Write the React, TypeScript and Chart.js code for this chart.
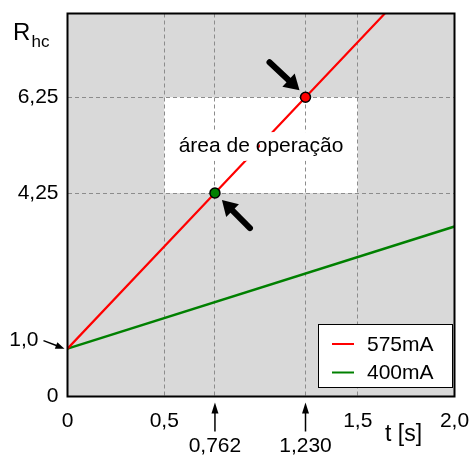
import React, { useEffect, useRef } from 'react';
import { Chart, registerables } from 'chart.js';

Chart.register(...registerables);

const FONT = "'Liberation Sans', Arial, Helvetica, sans-serif";

// Series data
const RED_LABEL = '575mA';
const RED_T = [0, 0.762, 1.23, 1.64];
const RED_R = [1.0, 4.25, 6.25, 8.0];
const GREEN_LABEL = '400mA';
const GREEN_T = [0, 2.0];
const GREEN_R = [1.0, 3.55];
// Marked operating points
const MARK_T = [0.762, 1.23];
const MARK_R = [4.25, 6.25];
const MARK_COLORS = ['#008000', '#ff0000'];
// Ticks
const X_TICKS = [0, 0.5, 0.762, 1.23, 1.5, 2.0];
const X_LABELS: (string | string[])[] = ['0', '0,5', ['', '0,762'], ['', '1,230'], '1,5', '2,0'];
const X_GRID = [0.5, 0.762, 1.23, 1.5];
const X_ARROWS = [0.762, 1.23];
const Y_TICKS = [0, 1, 4.25, 6.25];
const Y_LABELS = ['0', '', '4,25', '6,25'];
const Y_GRID = [4.25, 6.25];
const ORIGIN_R = 1.0;
const ORIGIN_LABEL = '1,0';
// Operating area
const OP_T = [0.5, 1.5];
const OP_R = [4.25, 6.25];
const OP_TEXT = 'área de operação';
const X_TITLE = 't [s]';
const Y_TITLE = 'R';
const Y_TITLE_SUB = 'hc';

function arrow(ctx: CanvasRenderingContext2D, x1: number, y1: number, x2: number, y2: number,
  w: number, hl: number, hw: number, round: boolean) {
  const ang = Math.atan2(y2 - y1, x2 - x1);
  const c = Math.cos(ang), s = Math.sin(ang);
  const bx = x2 - hl * c, by = y2 - hl * s;
  ctx.beginPath();
  ctx.lineWidth = w;
  ctx.lineCap = round ? 'round' : 'butt';
  ctx.moveTo(x1, y1);
  ctx.lineTo(bx + c, by + s);
  ctx.stroke();
  ctx.beginPath();
  ctx.moveTo(x2, y2);
  ctx.lineTo(bx + (hw / 2) * s, by - (hw / 2) * c);
  ctx.lineTo(bx - (hw / 2) * s, by + (hw / 2) * c);
  ctx.closePath();
  ctx.fill();
}

const decor = {
  id: 'decor',
  beforeDraw(chart: any) {
    const { ctx, chartArea: a, scales } = chart;
    const x = scales.x, y = scales.y;
    ctx.save();
    ctx.fillStyle = '#d9d9d9';
    ctx.fillRect(a.left, a.top, a.right - a.left, a.bottom - a.top);
    const x0 = x.getPixelForValue(OP_T[0]);
    const x1 = x.getPixelForValue(OP_T[1]);
    const y0 = y.getPixelForValue(OP_R[0]);
    const y1 = y.getPixelForValue(OP_R[1]);
    ctx.fillStyle = '#ffffff';
    ctx.fillRect(x0, y1, x1 - x0, y0 - y1);
    ctx.restore();
  },
  afterDatasetsDraw(chart: any) {
    const { ctx, scales } = chart;
    const x = scales.x, y = scales.y;
    ctx.save();
    // operating area text with white halo
    const cx = x.getPixelForValue((OP_T[0] + OP_T[1]) / 2);
    const cy = y.getPixelForValue((OP_R[0] + OP_R[1]) / 2);
    ctx.font = `21px ${FONT}`;
    ctx.textAlign = 'center';
    ctx.textBaseline = 'alphabetic';
    ctx.lineJoin = 'round';
    ctx.strokeStyle = '#ffffff';
    ctx.lineWidth = 18;
    ctx.strokeText(OP_TEXT, cx, cy + 7);
    ctx.fillStyle = '#000000';
    ctx.fillText(OP_TEXT, cx, cy + 7);
    ctx.restore();
  },
  afterDraw(chart: any) {
    const { ctx, chartArea: a, scales } = chart;
    const x = scales.x, y = scales.y;
    ctx.save();
    // frame
    ctx.strokeStyle = '#000';
    ctx.lineWidth = 2;
    ctx.strokeRect(a.left, a.top, a.right - a.left, a.bottom - a.top);

    ctx.fillStyle = '#000';
    ctx.strokeStyle = '#000';
    // big arrows to marked points
    const p0x = x.getPixelForValue(MARK_T[0]), p0y = y.getPixelForValue(MARK_R[0]);
    const p1x = x.getPixelForValue(MARK_T[1]), p1y = y.getPixelForValue(MARK_R[1]);
    arrow(ctx, p0x + 35, p0y + 35, p0x + 7, p0y + 7, 6, 15, 18, true);
    arrow(ctx, p1x - 36, p1y - 35, p1x - 6, p1y - 7, 6, 15, 18, true);

    // arrows below x axis
    for (const v of X_ARROWS) {
      const px = x.getPixelForValue(v);
      arrow(ctx, px, a.bottom + 35, px, a.bottom + 6, 1.5, 11, 7, false);
    }

    // origin label and arrow
    const oy = y.getPixelForValue(ORIGIN_R);
    arrow(ctx, a.left - 24, oy - 8, a.left - 3, oy, 1.5, 9, 7, false);
    ctx.font = `21px ${FONT}`;
    ctx.textAlign = 'right';
    ctx.textBaseline = 'middle';
    ctx.fillText(ORIGIN_LABEL, a.left - 29, oy - 8);

    // axis titles
    ctx.textAlign = 'left';
    ctx.textBaseline = 'alphabetic';
    ctx.font = `23px ${FONT}`;
    ctx.fillText(X_TITLE, 385, a.bottom + 44.5);
    ctx.font = `24px ${FONT}`;
    ctx.fillText(Y_TITLE, 13, 40);
    ctx.font = `17px ${FONT}`;
    ctx.fillText(Y_TITLE_SUB, 31.5, 47);

    // legend
    const lx = 318, ly = 324, lw = 135, lh = 64;
    ctx.fillStyle = '#fff';
    ctx.fillRect(lx, ly, lw, lh);
    ctx.lineWidth = 1;
    ctx.strokeStyle = '#000';
    ctx.strokeRect(lx + 0.5, ly + 0.5, lw - 1, lh - 1);
    const items = chart.data.datasets.filter((d: any) => d.label);
    items.forEach((d: any, i: number) => {
      const yy = ly + 20 + i * 28.5;
      ctx.strokeStyle = d.borderColor;
      ctx.lineWidth = 2;
      ctx.beginPath();
      ctx.moveTo(lx + 14, yy);
      ctx.lineTo(lx + 36, yy);
      ctx.stroke();
      ctx.fillStyle = '#000';
      ctx.font = `21px ${FONT}`;
      ctx.textAlign = 'left';
      ctx.textBaseline = 'middle';
      ctx.fillText(d.label, lx + 49, yy + 1);
    });
    ctx.restore();
  },
};

export default function App() {
  const ref = useRef<HTMLCanvasElement | null>(null);
  useEffect(() => {
    if (!ref.current) return;
    const chart = new Chart(ref.current, {
      type: 'line',
      data: {
        datasets: [
          {
            data: MARK_T.map((t, i) => ({ x: t, y: MARK_R[i] })),
            showLine: false,
            pointRadius: 5,
            pointBorderWidth: 1.5,
            pointBorderColor: '#000',
            pointBackgroundColor: MARK_COLORS,
            borderColor: '#000',
          },
          {
            label: RED_LABEL,
            data: RED_T.map((t, i) => ({ x: t, y: RED_R[i] })),
            borderColor: '#ff0000',
            borderWidth: 2.2,
            pointRadius: 0,
            tension: 0,
          },
          {
            label: GREEN_LABEL,
            data: GREEN_T.map((t, i) => ({ x: t, y: GREEN_R[i] })),
            borderColor: '#008000',
            borderWidth: 2.5,
            pointRadius: 0,
            tension: 0,
          },
        ],
      },
      options: {
        animation: false,
        responsive: false,
        devicePixelRatio: 1,
        layout: { padding: { top: 13.5, right: 14.5, left: 0, bottom: 0 } },
        plugins: { legend: { display: false }, tooltip: { enabled: false } },
        scales: {
          x: {
            type: 'linear',
            min: 0,
            max: 2,
            afterBuildTicks: (s: any) => { s.ticks = X_TICKS.map((v) => ({ value: v })); },
            afterFit: (s: any) => {
              s.height = 62.5;
              s.paddingLeft = 0; s.paddingRight = 0; s.paddingTop = 0; s.paddingBottom = 0;
            },
            ticks: {
              autoSkip: false,
              maxRotation: 0,
              minRotation: 0,
              padding: 12,
              color: '#000',
              font: { family: FONT, size: 21, lineHeight: 1.2 },
              callback: (_v: any, i: number) => X_LABELS[i],
            },
            grid: {
              drawTicks: false,
              lineWidth: 1,
              color: (c: any) => (c.tick && X_GRID.includes(c.tick.value) ? '#8c8c8c' : 'rgba(0,0,0,0)'),
            },
            border: { display: false, dash: [4, 3] },
          },
          y: {
            type: 'linear',
            min: 0,
            max: 8,
            afterBuildTicks: (s: any) => { s.ticks = Y_TICKS.map((v) => ({ value: v })); },
            afterFit: (s: any) => {
              s.width = 67.5;
              s.paddingLeft = 0; s.paddingRight = 0; s.paddingTop = 0; s.paddingBottom = 0;
            },
            ticks: {
              autoSkip: false,
              padding: 9,
              color: '#000',
              font: { family: FONT, size: 21 },
              callback: (_v: any, i: number) => Y_LABELS[i],
            },
            grid: {
              drawTicks: false,
              lineWidth: 1,
              color: (c: any) => (c.tick && Y_GRID.includes(c.tick.value) ? '#8c8c8c' : 'rgba(0,0,0,0)'),
            },
            border: { display: false, dash: [4, 3] },
          },
        },
      },
      plugins: [decor],
    } as any);
    return () => chart.destroy();
  }, []);
  return (
    <div style={{ position: 'fixed', left: 0, top: 0, width: 469, height: 459, background: '#fff' }}>
      <canvas ref={ref} width={469} height={459} style={{ display: 'block' }} />
    </div>
  );
}
